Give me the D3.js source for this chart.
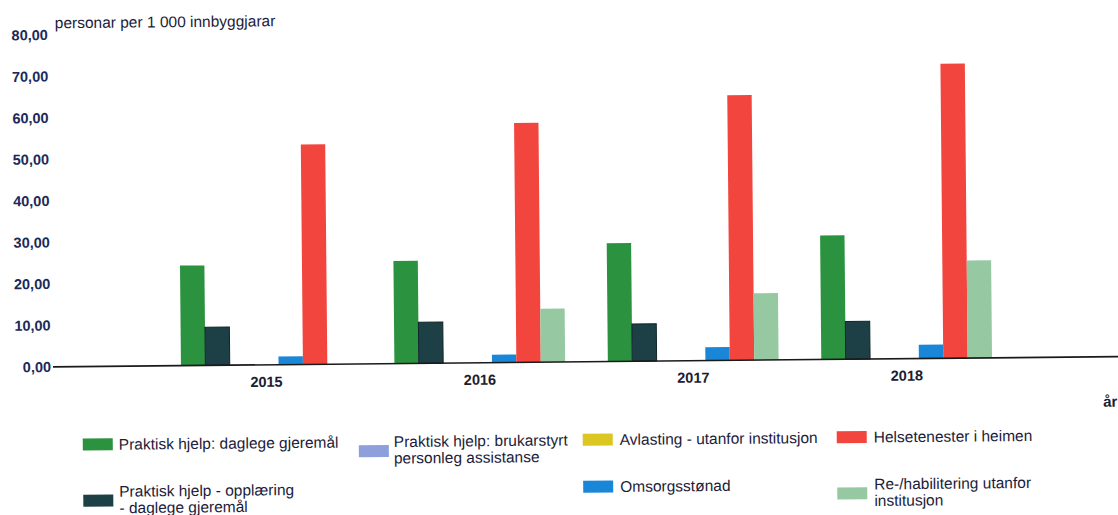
<!DOCTYPE html>
<html>
<head>
<meta charset="utf-8">
<script src="https://cdn.jsdelivr.net/npm/d3@7/dist/d3.min.js"></script>
<style>
  html, body { margin: 0; padding: 0; background: #fff; }
  svg { display: block; }
  text { font-family: "Liberation Sans", Arial, sans-serif; }
</style>
</head>
<body>
<svg id="chart" width="1118" height="515"></svg>
<script>
// ---- data ----
const years = ["2015", "2016", "2017", "2018"];
const seriesNames = [
  "Praktisk hjelp: daglege gjeremål",
  "Praktisk hjelp - opplæring - daglege gjeremål",
  "Praktisk hjelp: brukarstyrt personleg assistanse",
  "Avlasting - utanfor institusjon",
  "Omsorgsstønad",
  "Helsetenester i heimen",
  "Re-/habilitering utanfor institusjon"
];
const legendLines = [
  ["Praktisk hjelp: daglege gjeremål"],
  ["Praktisk hjelp - opplæring", "- daglege gjeremål"],
  ["Praktisk hjelp: brukarstyrt", "personleg assistanse"],
  ["Avlasting - utanfor institusjon"],
  ["Omsorgsstønad"],
  ["Helsetenester i heimen"],
  ["Re-/habilitering utanfor", "institusjon"]
];
const seriesColors = ["#2b9240", "#1d4046", "#8e9fdc", "#dcc622", "#1a86d8", "#f2453d", "#96c9a2"];
const praktiskDaglege   = [24.1, 24.7, 28.5, 29.9];
const praktiskOpplaering = [9.2, 9.9, 9.0, 9.1];
const brukarstyrt       = [0, 0, 0, 0];
const avlasting         = [0, 0, 0, 0];
const omsorgsstonad     = [2.0, 1.9, 3.2, 3.3];
const helsetenester     = [53.0, 57.7, 63.9, 71.0];
const rehabilitering    = [0, 12.9, 16.1, 23.5];
const seriesValues = [praktiskDaglege, praktiskOpplaering, brukarstyrt, avlasting, omsorgsstonad, helsetenester, rehabilitering];
const yTicks = [0, 10, 20, 30, 40, 50, 60, 70, 80];
const yTitle = "personar per 1 000 innbyggjarar";
const xTitle = "år";

// ---- layout ----
const W = 1118, H = 515;
const baseY = 362, topY = 30;
const svg = d3.select("#chart");
svg.append("rect").attr("width", W).attr("height", H).attr("fill", "#fff");
const root = svg.append("g").attr("transform", "rotate(-0.55, 559, 362)");

const x0 = d3.scaleBand().domain(years).range([55, 1118]).paddingInner(0.2).paddingOuter(0.59);
const x1 = d3.scaleBand().domain(d3.range(seriesNames.length)).range([0, x0.bandwidth()]).padding(0);
const y = d3.scaleLinear().domain([0, 80]).range([baseY, topY]);

// bars
const groups = root.append("g").selectAll("g").data(years).join("g")
  .attr("transform", d => `translate(${x0(d)},0)`);
groups.selectAll("rect")
  .data((yr, yi) => seriesValues.map((vals, si) => ({ si, v: vals[yi] })).filter(d => d.v > 0))
  .join("rect")
  .attr("x", d => x1(d.si))
  .attr("width", x1.bandwidth())
  .attr("y", d => y(d.v))
  .attr("height", d => y(0) - y(d.v))
  .attr("fill", d => seriesColors[d.si])
  .attr("stroke", d => d.si === 1 ? "#10252a" : "none")
  .attr("stroke-width", 1);

// y axis labels (no line)
const yAxis = d3.axisLeft(y).tickValues(yTicks).tickSize(0).tickPadding(0)
  .tickFormat(d => d3.format(".2f")(d).replace(".", ","));
const yg = root.append("g").attr("transform", "translate(51,0)").call(yAxis);
yg.select(".domain").remove();
yg.selectAll("text").attr("font-size", 14.5).attr("font-weight", "bold").attr("fill", "#1b2a58")
  .attr("font-family", "'Liberation Sans', Arial, sans-serif");

// baseline axis
const xAxis = d3.axisBottom(x0).tickSize(0).tickPadding(0);
const xg = root.append("g").attr("transform", `translate(0,${baseY})`).call(xAxis);
xg.select(".domain").remove();
xg.selectAll("text").attr("y", 22).attr("dy", 0).attr("font-size", 14.5).attr("font-weight", "bold")
  .attr("fill", "#1b2030").attr("font-family", "'Liberation Sans', Arial, sans-serif");
root.append("line").attr("x1", 53).attr("x2", 1130).attr("y1", baseY).attr("y2", baseY)
  .attr("stroke", "#1a1a1a").attr("stroke-width", 1.6);

// titles
root.append("text").attr("x", 58).attr("y", 23.5).attr("font-size", 15.5).attr("fill", "#1c1c3a").text(yTitle);
root.append("text").attr("x", 1117).attr("y", 412).attr("text-anchor", "end").attr("font-size", 15)
  .attr("font-weight", "bold").attr("fill", "#1b2030").text(xTitle);

// legend
const legCols = [{ sx: 82, tx: 118 }, { sx: 358, tx: 393 }, { sx: 582, tx: 619 }, { sx: 836, tx: 873 }];
const legRows = [440, 487];
const legSlots = [[0, 0], [0, 1], [1, 0], [2, 0], [2, 1], [3, 0], [3, 1]];
const lineH = 16.5;
const leg = root.append("g");
legendLines.forEach((lines, i) => {
  const [c, r] = legSlots[i];
  const cy = legRows[r];
  const sc = cy + (lines.length - 1) * lineH / 2 + (lines.length > 1 ? 1 : 0);
  leg.append("rect").attr("x", legCols[c].sx).attr("y", sc - 6).attr("width", 30).attr("height", 12)
    .attr("fill", seriesColors[i]);
  lines.forEach((t, li) => {
    leg.append("text").attr("x", legCols[c].tx).attr("y", cy + li * lineH + 5.5)
      .attr("font-size", 15.5).attr("fill", "#1c1c3a").text(t);
  });
});
</script>
</body>
</html>
